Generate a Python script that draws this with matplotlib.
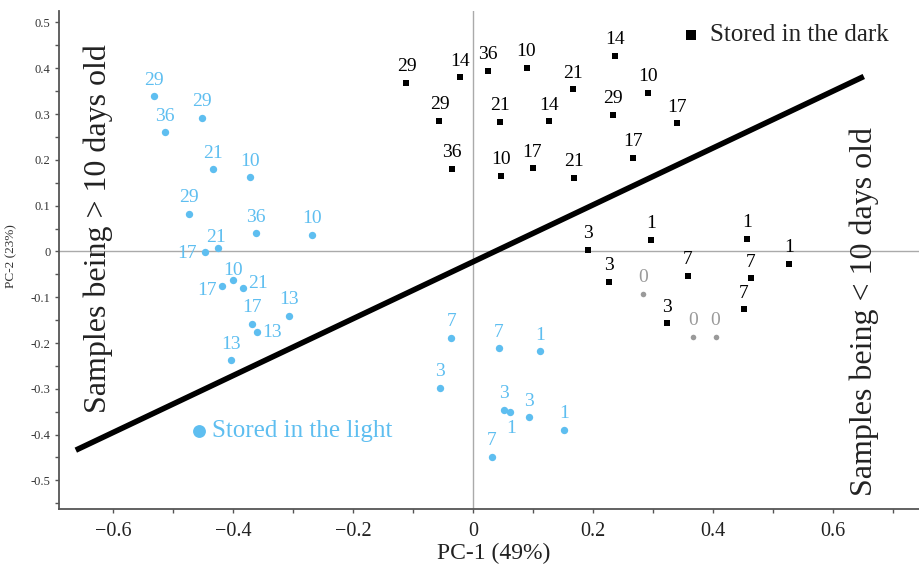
import matplotlib.pyplot as plt
from matplotlib.ticker import MultipleLocator

# 光照储存样品 (PC-1, PC-2, 储存天数)
light_x = [-0.531, -0.514, -0.451, -0.433, -0.372, -0.474, -0.362, -0.269, -0.446, -0.425,
           -0.400, -0.418, -0.384, -0.369, -0.360, -0.306, -0.404, -0.036, -0.055,
           0.043, 0.111, 0.052, 0.062, 0.093, 0.152, 0.031]
light_y = [0.339, 0.260, 0.292, 0.179, 0.162, 0.082, 0.040, 0.036, -0.002, 0.007,
           -0.063, -0.075, -0.079, -0.158, -0.175, -0.140, -0.238, -0.189, -0.298,
           -0.212, -0.218, -0.346, -0.351, -0.362, -0.389, -0.449]
light_day = ['29', '36', '29', '21', '10', '29', '36', '10', '17', '21',
             '10', '17', '21', '17', '13', '13', '13', '7', '3',
             '7', '1', '3', '1', '3', '1', '7']

# 避光储存样品
dark_x = [-0.111, -0.056, -0.035, -0.022, 0.025, 0.089, 0.236, 0.167, 0.292, 0.044,
          0.127, 0.233, 0.339, 0.267, 0.047, 0.099, 0.168,
          0.192, 0.296, 0.457, 0.526, 0.358, 0.463, 0.227, 0.451, 0.323]
dark_y = [0.368, 0.285, 0.181, 0.380, 0.395, 0.401, 0.427, 0.354, 0.346, 0.283,
          0.284, 0.298, 0.280, 0.205, 0.165, 0.182, 0.161,
          0.004, 0.026, 0.028, -0.027, -0.053, -0.059, -0.066, -0.126, -0.157]
dark_day = ['29', '29', '36', '14', '36', '10', '14', '21', '10', '21',
            '14', '29', '17', '17', '10', '17', '21',
            '3', '1', '1', '1', '7', '7', '3', '7', '3']

# 第0天样品
fresh_x = [0.283, 0.366, 0.404]
fresh_y = [-0.092, -0.186, -0.186]
fresh_day = ['0', '0', '0']

# 分界线
boundary_x = [-0.662, 0.651]
boundary_y = [-0.434, 0.382]

BLUE = '#5ebef0'
GREY = '#9a9a9a'
SERIF = 'Liberation Serif'

plt.rcParams['font.family'] = SERIF
plt.rcParams['axes.unicode_minus'] = True

W, H = 919, 568
fig = plt.figure(figsize=(W / 100, H / 100), dpi=100)
ax = fig.add_axes([59 / W, (H - 509) / H, (W - 59) / W, (509 - 11) / H])

ax.set_xlim(-0.69, 0.743)
ax.set_ylim(-0.5625, 0.525)

# 零线
ax.axhline(0, color='#aaaaaa', lw=1.0, zorder=1)
ax.axvline(0, color='#aaaaaa', lw=1.0, zorder=1)

ax.plot(boundary_x, boundary_y, color='black', lw=4.0, solid_capstyle='butt', zorder=2)

sc_light = ax.scatter(light_x, light_y, s=28, color=BLUE, marker='o', linewidths=0, zorder=3,
                      label='Stored in the light')
sc_dark = ax.scatter(dark_x, dark_y, s=20, color='black', marker='s', linewidths=0, zorder=3,
                     label='Stored in the dark')
ax.scatter(fresh_x, fresh_y, s=16, color=GREY, marker='o', linewidths=0, zorder=3)

# 标签默认在点正上方，个别位置单独调整 (dx, dy, ha)
light_offsets = {
    8: (-6.5, -4.1, 'right'),
    9: (-1.6, 4.3, 'center'),
    10: (0, 4.0, 'center'),
    11: (-3.6, -6.5, 'right'),
    12: (3.8, 0.0, 'left'),
    14: (3.6, -4.0, 'left'),
    22: (0.5, -14.7, 'center'),
}


def put_labels(xs, ys, days, color, offsets=None):
    offsets = offsets or {}
    for i, (x, y, d) in enumerate(zip(xs, ys, days)):
        dx, dy, ha = offsets.get(i, (0, 8.3, 'center'))
        ax.annotate(d, (x, y), xytext=(dx, dy), textcoords='offset points',
                    ha=ha, va='baseline', fontsize=14, color=color, zorder=4)


put_labels(light_x, light_y, light_day, BLUE, light_offsets)
put_labels(dark_x, dark_y, dark_day, 'black')
put_labels(fresh_x, fresh_y, fresh_day, GREY)

# 图例
leg1 = ax.legend(handles=[sc_dark], loc='center left', bbox_to_anchor=((681 - 59) / 860, (509 - 35) / 498),
                 frameon=False, fontsize=18, handlelength=0.8, handletextpad=0.36,
                 borderpad=0, borderaxespad=0, markerscale=1.6, labelcolor='#222222')
ax.add_artist(leg1)
ax.legend(handles=[sc_light], loc='center left', bbox_to_anchor=((189 - 59) / 860, (509 - 431) / 498),
          frameon=False, fontsize=18, handlelength=0.8, handletextpad=0.12,
          borderpad=0, borderaxespad=0, markerscale=1.75, labelcolor=BLUE)

# 竖排说明文字
ax.text((98 - 59) / 860, (509 - 229) / 498, 'Samples being > 10 days old', rotation=90,
        transform=ax.transAxes, ha='center', va='center', fontsize=23, color='#222222')
ax.text((864 - 59) / 860, (509 - 312) / 498, 'Samples being < 10 days old', rotation=90,
        transform=ax.transAxes, ha='center', va='center', fontsize=23, color='#222222')

# 坐标轴样式
for side in ['top', 'right']:
    ax.spines[side].set_visible(False)
for side in ['left', 'bottom']:
    ax.spines[side].set_color('#555555')
    ax.spines[side].set_linewidth(1.3)

ax.xaxis.set_major_locator(MultipleLocator(0.2))
ax.xaxis.set_minor_locator(MultipleLocator(0.1))
ax.yaxis.set_major_locator(MultipleLocator(0.1))
ax.yaxis.set_minor_locator(MultipleLocator(0.05))
ax.xaxis.set_major_formatter(plt.FuncFormatter(lambda v, p: '0' if abs(v) < 1e-9 else f'{v:.1f}'.replace('-', '\u2212')))
ax.yaxis.set_major_formatter(plt.FuncFormatter(lambda v, p: '0' if abs(v) < 1e-9 else f'{v:.1f}'))

ax.tick_params(axis='x', which='both', length=3, width=1, color='#555555', labelsize=14.5, pad=6,
               labelcolor='#222222')
ax.tick_params(axis='y', which='both', length=3, width=1, color='#555555', labelsize=9, pad=3,
               labelcolor='#333333')

ax.set_xlabel('PC-1 (49%)', fontsize=17, color='#222222')
ax.xaxis.set_label_coords((494 - 59) / 860, -(543 - 509) / 498)
ax.set_ylabel('PC-2 (23%)', fontsize=9.5, color='#333333')
ax.yaxis.set_label_coords(-(59 - 17) / 860, (509 - 256) / 498)

fig.savefig('out.png', dpi=100)
